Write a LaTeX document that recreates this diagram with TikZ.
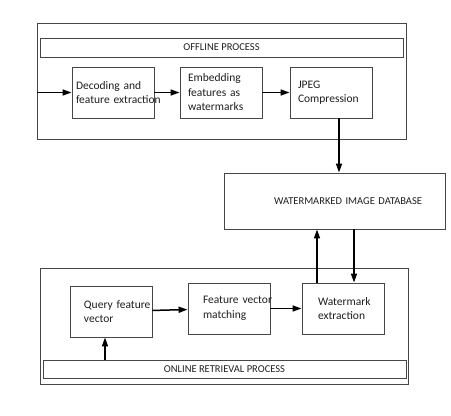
\documentclass[tikz,border=0pt]{standalone}
\usepackage{fontspec}
\setmainfont{Carlito}
\usetikzlibrary{arrows.meta,positioning}
\definecolor{rule}{RGB}{70,70,70}
\definecolor{ink}{RGB}{30,30,30}
\tikzset{
  >={Triangle[length=9pt,width=6pt]},
  frame/.style={draw=rule,line width=0.9pt,minimum width=#1,minimum height=116pt,inner sep=0pt},
  bar/.style={draw=rule,line width=0.9pt,minimum width=363pt,minimum height=#1,inner sep=0pt,
    font=\fontsize{10.5}{12}\selectfont,text=ink},
  stage/.style={draw=rule,line width=0.9pt,minimum width=82pt,minimum height=51pt,inner sep=0pt,
    text width=#1,align=left,font=\fontsize{11.5}{14.5}\selectfont,text=ink},
  flow/.style={->,line width=1.5pt,draw=black},
}
\begin{document}
\begin{tikzpicture}[x=1pt,y=1pt]
  \useasboundingbox (0,0) rectangle (451,416);
  % offline part
  \node[frame=369pt] (offline) at (221.5,335) {};
  \node[bar=19pt] (offlinebar) at (221.5,368.5) {OFFLINE PROCESS};
  \node[stage=74pt] (decode) at (113,323.5) {Decoding and\\\mbox{feature extraction}};
  \node[stage=66pt] (embed) at (221,323.5) {Embedding\\features as\\watermarks};
  \node[stage=66pt] (jpeg) at (331,323.5) {JPEG\\Compression\\[2pt]};
  % database
  \node[draw=rule,line width=0.9pt,minimum width=221pt,minimum height=56pt,inner sep=0pt,
    text width=175pt,align=right,font=\fontsize{10.5}{12}\selectfont,text=ink] (db) at (334.5,215)
    {WATERMARKED IMAGE DATABASE};
  % online part
  \node[frame=368pt] (online) at (224,90) {};
  \node[bar=18pt] (onlinebar) at (224.5,47) {ONLINE RETRIEVAL PROCESS};
  \node[stage=54pt] (query) at (111,104.5) {\mbox{Query feature}\\vector};
  \node[stage=52pt] (match) at (229,107.5) {\mbox{Feature vector}\\matching\\[2pt]};
  \node[stage=50pt] (wmext) at (343,107.5) {\mbox{Watermark}\\extraction\\[1pt]};
  % connectors
  \draw[flow] (offline.west |- decode.west) -- (decode.west);
  \draw[flow] (decode) -- (embed);
  \draw[flow] (embed) -- (jpeg);
  \draw[flow] ([xshift=8pt]jpeg.south) -- ([xshift=8pt]jpeg.south |- db.north);
  \draw[flow] ([xshift=-26pt]wmext.north) -- ([xshift=-26pt]wmext.north |- db.south);
  \draw[flow] ([xshift=11pt]wmext.north |- db.south) -- ([xshift=11pt]wmext.north);
  \draw[flow] ([xshift=-6pt]query.south |- onlinebar.north) -- ([xshift=-6pt]query.south);
  \draw[flow] (query) -- (match);
  \draw[flow] (match) -- (wmext);
\end{tikzpicture}
\end{document}
